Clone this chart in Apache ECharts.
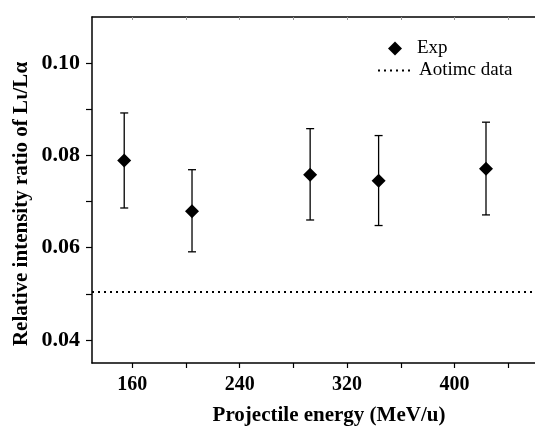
<!DOCTYPE html>
<html>
<head>
<meta charset="utf-8">
<script src="https://cdn.jsdelivr.net/npm/echarts@6/dist/echarts.min.js"></script>
<style>html,body{margin:0;padding:0;background:#fff}#c{width:535px;height:429px}</style>
</head>
<body>
<div id="c"></div>
<script>
const energies = [154, 204.5, 292.5, 343.5, 423.5];
const ratios = [0.0789, 0.0679, 0.0758, 0.0745, 0.0771];
const errLow = [0.0686, 0.0591, 0.0660, 0.0648, 0.0671];
const errHigh = [0.0892, 0.0769, 0.0858, 0.0843, 0.0872];
const aotimcX = [130, 460];
const aotimcY = [0.0504, 0.0504];
const xTicks = [160, 200, 240, 280, 320, 360, 400, 440];
const xLabels = [160, 240, 320, 400];
const yTicks = [0.04, 0.05, 0.06, 0.07, 0.08, 0.09, 0.10];
const yLabels = [0.04, 0.06, 0.08, 0.10];

const chart = echarts.init(document.getElementById('c'), null, {renderer: 'canvas'});
const serif = '"Liberation Serif", "Times New Roman", serif';

const option = {
  animation: false,
  backgroundColor: '#fff',
  grid: {left: 92, right: -4, top: 17, bottom: 66, containLabel: false},
  legend: [
    {
      data: ['Exp'], left: 383, top: 34, icon: 'diamond', itemWidth: 14, itemHeight: 14,
      textStyle: {fontFamily: serif, fontSize: 19, color: '#000', padding: [0, 0, 0, 10]},
      selectedMode: false
    },
    {
      data: ['Aotimc data'], left: 372, top: 56, itemWidth: 36, itemHeight: 14,
      itemStyle: {opacity: 0},
      lineStyle: {color: '#000', width: 2, type: [2, 4], opacity: 1},
      textStyle: {fontFamily: serif, fontSize: 19, color: '#000', padding: [0, 0, 0, 0]},
      selectedMode: false
    }
  ],
  xAxis: [
    {
      type: 'value', min: 130, max: 460, position: 'bottom',
      axisLine: {show: true, onZero: false, lineStyle: {color: '#000', width: 1.5}},
      axisTick: {show: true, inside: false, length: 5, customValues: xTicks, lineStyle: {color: '#000', width: 1.2}},
      axisLabel: {customValues: xLabels, fontFamily: serif, fontWeight: 'bold', fontSize: 20, color: '#000', margin: 12},
      splitLine: {show: false}
    },
    {
      type: 'value', min: 130, max: 460, position: 'top',
      axisLine: {show: true, onZero: false, lineStyle: {color: '#000', width: 1.5}},
      axisTick: {show: true, inside: true, length: 3, customValues: xTicks, lineStyle: {color: '#999', width: 1}},
      axisLabel: {show: false},
      splitLine: {show: false}
    }
  ],
  yAxis: {
    type: 'value', min: 0.035, max: 0.11,
    axisLine: {show: true, onZero: false, lineStyle: {color: '#000', width: 1.5}},
    axisTick: {show: true, inside: false, length: 6, customValues: yTicks, lineStyle: {color: '#000', width: 1.2}},
    axisLabel: {customValues: yLabels, fontFamily: serif, fontWeight: 'bold', fontSize: 22, color: '#000', margin: 12,
      formatter: v => v.toFixed(2)},
    splitLine: {show: false}
  },
  graphic: [
    {
      type: 'text', x: 329, y: 416,
      style: {text: 'Projectile energy (MeV/u)', font: 'bold 21px ' + serif, fill: '#000', align: 'center', verticalAlign: 'middle'}
    },
    {
      type: 'text', x: 22, y: 204, rotation: Math.PI / 2,
      style: {text: 'Relative intensity ratio of L\u03b9/L\u03b1', font: 'bold 21px ' + serif, fill: '#000', align: 'center', verticalAlign: 'middle'}
    }
  ],
  series: [
    {
      name: 'Aotimc data', type: 'line', xAxisIndex: 0, symbol: 'none',
      data: aotimcX.map((x, i) => [x, aotimcY[i]]),
      lineStyle: {color: '#000', width: 2, type: [2, 4]},
      itemStyle: {color: '#000'},
      z: 1
    },
    {
      name: 'errorbars', type: 'custom', xAxisIndex: 0,
      data: energies.map((x, i) => [x, errLow[i], errHigh[i]]),
      renderItem: function (params, api) {
        const x = api.value(0);
        const lo = api.coord([x, api.value(1)]);
        const hi = api.coord([x, api.value(2)]);
        const w = 4;
        const st = {stroke: '#000', lineWidth: 1.3};
        return {
          type: 'group',
          children: [
            {type: 'line', shape: {x1: lo[0], y1: lo[1], x2: hi[0], y2: hi[1]}, style: st},
            {type: 'line', shape: {x1: lo[0] - w, y1: lo[1], x2: lo[0] + w, y2: lo[1]}, style: st},
            {type: 'line', shape: {x1: hi[0] - w, y1: hi[1], x2: hi[0] + w, y2: hi[1]}, style: st}
          ]
        };
      },
      z: 2
    },
    {
      name: 'Exp', type: 'scatter', xAxisIndex: 0, symbol: 'diamond', symbolSize: 14,
      data: energies.map((x, i) => [x, ratios[i]]),
      itemStyle: {color: '#000', opacity: 1},
      z: 3
    }
  ]
};
chart.setOption(option);
</script>
</body>
</html>
